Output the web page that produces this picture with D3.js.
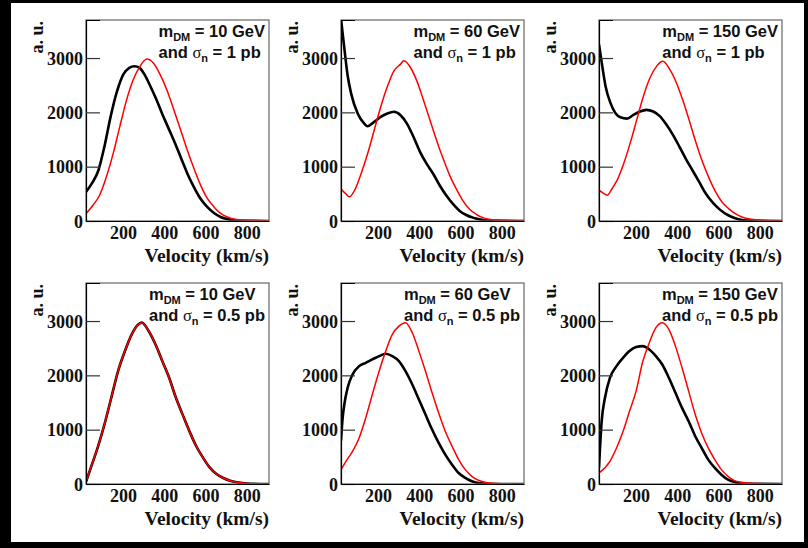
<!DOCTYPE html>
<html>
<head>
<meta charset="utf-8">
<script src="https://cdn.jsdelivr.net/npm/d3@7"></script>
<style>
  body { margin: 0; background: #000; }
  svg { display: block; }
  .tick-label { font-family: "Liberation Serif", "Times New Roman", serif; font-weight: bold; font-size: 18px; fill: #111; }
  .axis-title { font-family: "Liberation Serif", "Times New Roman", serif; font-weight: bold; font-size: 19.5px; fill: #111; }
  .legend { font-family: "Liberation Sans", Arial, sans-serif; font-weight: bold; font-size: 16.5px; fill: #111; }
</style>
</head>
<body>
<svg id="chart" width="808" height="548"></svg>
<script>
// panel labels
const massLabels = ["10", "60", "150", "10", "60", "150"];
const sigmaLabels = ["1", "1", "1", "0.5", "0.5", "0.5"];
const xTicks = [200, 400, 600, 800];
const yTicks = [0, 1000, 2000, 3000];

// [velocity km/s, a.u.]
const black_10_1 = [[20,536],[50,700],[80,930],[110,1380],[140,1930],[170,2380],[200,2690],[230,2820],[255,2850],[280,2820],[305,2690],[330,2500],[360,2250],[390,1970],[420,1710],[450,1450],[480,1170],[510,890],[543,628],[575,413],[608,259],[641,148],[673,74],[706,37],[738,12],[780,3],[908,0]];
const red_10_1 = [[20,135],[54,290],[86,474],[119,813],[152,1245],[184,1738],[217,2230],[249,2600],[282,2847],[315,2982],[347,2908],[380,2693],[412,2415],[445,2060],[478,1690],[510,1320],[543,975],[575,670],[608,420],[641,259],[673,140],[706,74],[738,37],[803,12],[908,3]];

const black_60_1 = [[20,3720],[37,3154],[53,2659],[69,2350],[101,1979],[133,1793],[149,1744],[181,1824],[213,1917],[245,1979],[277,2010],[309,1948],[340,1793],[372,1546],[404,1268],[436,1051],[468,866],[500,649],[532,464],[564,309],[596,186],[628,111],[660,62],[691,31],[739,6],[908,0]];
const red_60_1 = [[20,588],[45,495],[61,445],[85,557],[117,866],[149,1237],[181,1670],[213,2103],[245,2474],[277,2764],[309,2888],[325,2950],[357,2826],[388,2579],[420,2226],[452,1855],[484,1484],[516,1144],[548,835],[580,588],[612,371],[644,216],[676,124],[708,62],[739,31],[787,10],[908,0]];

const black_150_1 = [[20,3250],[36,2846],[52,2477],[76,2169],[100,1984],[124,1910],[156,1885],[187,1953],[219,2015],[251,2046],[283,2015],[315,1930],[346,1780],[378,1590],[410,1370],[442,1140],[474,930],[506,721],[538,505],[569,351],[601,228],[633,136],[665,74],[697,31],[745,6],[908,0]];
const red_150_1 = [[20,567],[44,505],[60,474],[84,598],[108,752],[140,1060],[171,1429],[203,1861],[235,2292],[267,2631],[299,2847],[330,2939],[362,2800],[394,2560],[426,2230],[458,1850],[490,1450],[522,1090],[554,790],[586,536],[617,351],[649,228],[681,136],[713,74],[760,31],[840,6],[908,0]];

const black_10_05 = [[20,40],[44,306],[77,674],[110,1102],[143,1592],[176,2082],[209,2449],[242,2755],[275,2939],[291,2970],[324,2817],[357,2572],[390,2266],[423,1960],[456,1592],[488,1286],[521,980],[554,704],[587,490],[620,306],[653,184],[686,110],[719,61],[752,31],[801,8],[908,0]];
const red_10_05 = black_10_05;

const black_60_05 = [[20,800],[28,1217],[36,1463],[52,1770],[76,2016],[108,2170],[140,2231],[172,2293],[205,2354],[237,2397],[269,2354],[301,2262],[333,2077],[366,1832],[398,1555],[430,1278],[462,1002],[494,756],[526,541],[559,356],[591,203],[623,111],[655,49],[687,18],[736,3],[908,0]];
const red_60_05 = [[20,264],[44,418],[76,602],[108,848],[140,1217],[172,1647],[205,2077],[237,2446],[269,2754],[301,2907],[333,2969],[366,2785],[398,2446],[430,2077],[462,1678],[494,1309],[526,971],[559,695],[591,449],[623,264],[655,141],[687,68],[719,31],[767,10],[908,0]];

const black_150_05 = [[20,300],[33,1156],[49,1586],[73,1955],[105,2170],[137,2323],[168,2446],[200,2520],[232,2538],[264,2477],[296,2354],[327,2200],[359,1955],[391,1678],[423,1401],[455,1156],[487,879],[518,664],[550,449],[582,295],[614,172],[646,80],[678,37],[726,8],[908,0]];
const red_150_05 = [[20,203],[73,418],[105,664],[137,971],[168,1340],[200,1709],[232,2250],[264,2600],[296,2877],[327,2969],[359,2846],[391,2538],[423,2139],[455,1709],[487,1279],[518,940],[550,664],[582,449],[614,264],[646,141],[678,61],[710,31],[774,8],[908,0]];

const blackSeries = [black_10_1, black_60_1, black_150_1, black_10_05, black_60_05, black_150_05];
const redSeries = [red_10_1, red_60_1, red_150_1, red_10_05, red_60_05, red_150_05];

// layout
const colLeft = [86, 341, 599];
const rowTop = [20, 283];
const boxW = 183;
const boxH = 201;

const svg = d3.select("#chart");

// white page on black border
svg.append("rect")
    .attr("x", 11).attr("y", 3)
    .attr("width", 793).attr("height", 539)
    .attr("fill", "#fff");

massLabels.forEach((mass, i) => {
    const left = colLeft[i % 3];
    const top = rowTop[Math.floor(i / 3)];
    const right = left + boxW;
    const bottom = top + boxH;

    const xScale = d3.scaleLinear().domain([20, 908]).range([left, right]);
    const yScale = d3.scaleLinear().domain([0, 3700]).range([bottom, top]);

    const g = svg.append("g");

    // clip for the curves
    g.append("clipPath")
        .attr("id", `clip${i}`)
        .append("rect")
        .attr("x", left).attr("y", top)
        .attr("width", boxW).attr("height", boxH);

    const line = d3.line()
        .x(d => xScale(d[0]))
        .y(d => yScale(d[1]))
        .curve(d3.curveMonotoneX);

    g.append("path")
        .datum(blackSeries[i])
        .attr("clip-path", `url(#clip${i})`)
        .attr("d", line)
        .attr("fill", "none")
        .attr("stroke", "#000")
        .attr("stroke-width", 2.6);

    g.append("path")
        .datum(redSeries[i])
        .attr("clip-path", `url(#clip${i})`)
        .attr("d", line)
        .attr("fill", "none")
        .attr("stroke", "#ff0000")
        .attr("stroke-width", 1.5);

    // frame
    g.append("rect")
        .attr("x", left).attr("y", top)
        .attr("width", boxW).attr("height", boxH)
        .attr("fill", "none")
        .attr("stroke", "#666")
        .attr("stroke-width", 1.2);

    // left axis with inward ticks
    const leftAxis = d3.axisLeft(yScale)
        .tickValues(yTicks)
        .tickSize(-14)
        .tickPadding(18)
        .tickFormat(d3.format("d"));
    const ya = g.append("g")
        .attr("transform", `translate(${left},0)`)
        .call(leftAxis);
    ya.select(".domain").attr("stroke", "#000").attr("stroke-width", 1.2);
    ya.selectAll(".tick line").attr("stroke", "#333").attr("stroke-width", 1.2);
    ya.selectAll(".tick text")
        .attr("class", "tick-label")
        .attr("x", -3)
        .attr("dy", "0.35em");

    // bottom axis, labels only
    const bottomAxis = d3.axisBottom(xScale)
        .tickValues(xTicks)
        .tickSize(0)
        .tickPadding(5);
    const xa = g.append("g")
        .attr("transform", `translate(0,${bottom})`)
        .call(bottomAxis);
    xa.select(".domain").attr("stroke", "#000").attr("stroke-width", 1.2);
    xa.selectAll(".tick text").attr("class", "tick-label");

    // axis titles
    g.append("text")
        .attr("class", "axis-title")
        .attr("text-anchor", "end")
        .attr("x", right)
        .attr("y", bottom + 41)
        .text("Velocity (km/s)");

    g.append("text")
        .attr("class", "tick-label")
        .attr("text-anchor", "end")
        .attr("transform", `translate(${left - 43},${top + 1}) rotate(-90)`)
        .text("a. u.");

    // legend text
    const leg = g.append("g");
    const l1 = leg.append("text").attr("class", "legend").attr("y", top + 17);
    l1.append("tspan").text("m");
    l1.append("tspan").attr("dy", 3.5).attr("font-size", 11).text("DM");
    l1.append("tspan").attr("dy", -3.5).text(` = ${mass} GeV`);

    const l2 = leg.append("text").attr("class", "legend").attr("y", top + 38);
    l2.append("tspan").text("and ");
    l2.append("tspan").attr("font-family", "Liberation Serif").attr("font-weight", "normal").text("σ");
    l2.append("tspan").attr("dy", 3.5).attr("font-size", 11).text("n");
    l2.append("tspan").attr("dy", -3.5).text(` = ${sigmaLabels[i]} pb`);

    const w = Math.max(l1.node().getComputedTextLength(), l2.node().getComputedTextLength());
    leg.attr("transform", `translate(${right - 4 - w},0)`);
});
</script>
</body>
</html>
